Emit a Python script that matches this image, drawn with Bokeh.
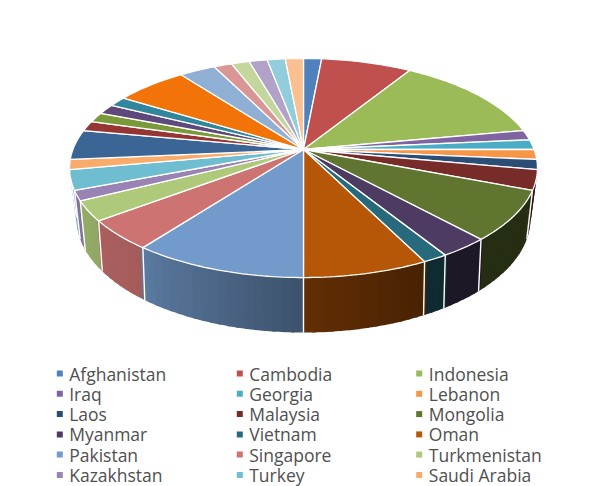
import numpy as np
from bokeh.plotting import figure
from bokeh.embed import file_html
from bokeh.resources import INLINE
from bokeh.core.properties import value

# Data (slice sizes, clockwise from 12 o'clock)
names = ["Afghanistan", "Cambodia", "Indonesia", "Iraq", "Georgia", "Lebanon",
         "Laos", "Malaysia", "Mongolia", "Myanmar", "Vietnam", "Oman",
         "Pakistan", "Singapore", "Turkmenistan", "Kazakhstan", "Turkey", "Saudi Arabia"]
named_values = [1, 5, 9, 1, 1, 1, 1, 2, 5, 2, 1, 5, 7, 3, 2, 1, 2, 1]
# slices that continue past the end of the legend
unlisted_values = [3, 1, 1, 1, 1, 4, 2, 1, 1, 1, 1, 1]

named_colors = ["#4F81BD", "#C0504D", "#9BBB59", "#8064A2", "#4BACC6", "#F79646",
                "#2C4D75", "#772C2A", "#5F7530", "#4D3B62", "#276A7C", "#B65708",
                "#729ACA", "#CD7371", "#AFC97A", "#9983B5", "#6FBDD1", "#F9AB6B"]
unlisted_colors = ["#3A6595", "#963634", "#7A9A3A", "#5F497A", "#31859C", "#F27409",
                   "#8FAFD4", "#D99694", "#C3D69B", "#B2A2C7", "#92CDDC", "#FAC090"]

vals = np.array(named_values + unlisted_values, dtype=float)
cols = named_colors + unlisted_colors
edges = np.concatenate([[0], np.cumsum(vals)]) / vals.sum() * 360.0


def proj(deg, cx, cy, A, B, k):
    t = np.radians(deg)
    d = 1 + k * np.cos(t)
    return cx + A * np.sin(t) / d, cy - B * np.cos(t) / d


TOP = (303.0, 149.0, 230.6, 106.4, 0.169)
BOT = (303.0, 196.0, 222.8, 109.8, 0.193)


def shade(color, f):
    r, g, b = int(color[1:3], 16), int(color[3:5], 16), int(color[5:7], 16)
    return "#%02x%02x%02x" % (int(r * f), int(g * f), int(b * f))


p = figure(width=602, height=486, output_backend="svg", toolbar_location=None,
           x_range=(0, 602), y_range=(486, 0), min_border=0)
p.axis.visible = False
p.grid.visible = False
p.outline_line_color = None
p.background_fill_color = "white"
p.border_fill_color = "white"

# outer wall: narrow strips, painted from the sides towards the front,
# each one reaching a little under the strip painted before it
strips = []
for i in range(len(vals)):
    a, b = edges[i], edges[i + 1]
    lo, hi = max(a, 90.0), min(b, 270.0)
    if hi <= lo:
        continue
    n = max(1, int(np.ceil((hi - lo) / 2.0)))
    gs = np.linspace(lo, hi, n + 1)
    for g0, g1 in zip(gs[:-1], gs[1:]):
        strips.append((abs((g0 + g1) / 2 - 180), g0, g1, cols[i]))
strips.sort(key=lambda s: -s[0])
xs, ys, fc = [], [], []
for _, g0, g1, c in strips:
    mid = (g0 + g1) / 2
    if mid < 180:
        g0 -= 0.6
    else:
        g1 += 0.6
    g = np.array([g0, (g0 + g1) / 2, g1])
    tx0, ty0 = proj(g, *TOP)
    bx0, by0 = proj(g[::-1], *BOT)
    xs.append(list(tx0) + list(bx0))
    ys.append(list(ty0) + list(by0))
    fc.append(shade(c, float(np.interp(mid, [90, 155, 180, 217, 250, 270],
                                       [0.38, 0.40, 0.54, 0.80, 0.87, 0.87]))))
p.patches(xs, ys, fill_color=fc, line_color=None)

# white seams on the wall
sx, sy = [], []
for e in edges:
    if 105 < e < 262:
        x0, y0 = proj(e, *TOP)
        x1, y1 = proj(e, *BOT)
        sx.append([x0, x1])
        sy.append([y0, y1])
p.multi_line(sx, sy, line_color="white", line_width=1.4)

# top face
xs, ys = [], []
for i in range(len(vals)):
    g = np.linspace(edges[i], edges[i + 1], max(2, int(vals[i] * 5) + 1))
    ax, ay = proj(g, *TOP)
    xs.append([TOP[0]] + list(ax))
    ys.append([TOP[1]] + list(ay))
p.patches(xs, ys, fill_color=cols, line_color="white", line_width=1.3)

# legend
col_x = [59.3, 239.3, 418.7]
text_x = [68.7, 248.7, 428.3]
row_y = [373.0, 393.3, 413.6, 433.9, 454.1, 474.5]
lx, ly, tx = [], [], []
for i in range(len(names)):
    r, c = i // 3, i % 3
    lx.append(col_x[c]); tx.append(text_x[c]); ly.append(row_y[r])
p.scatter(lx, ly, marker="square", size=6, fill_color=named_colors, line_color=None)
p.text(tx, ly, text=names, text_font=value("Open Sans"), text_font_size="17.5px",
       text_color="#505050", text_baseline="middle", text_align="left")

open("out.html", "w").write(file_html(p, INLINE))
